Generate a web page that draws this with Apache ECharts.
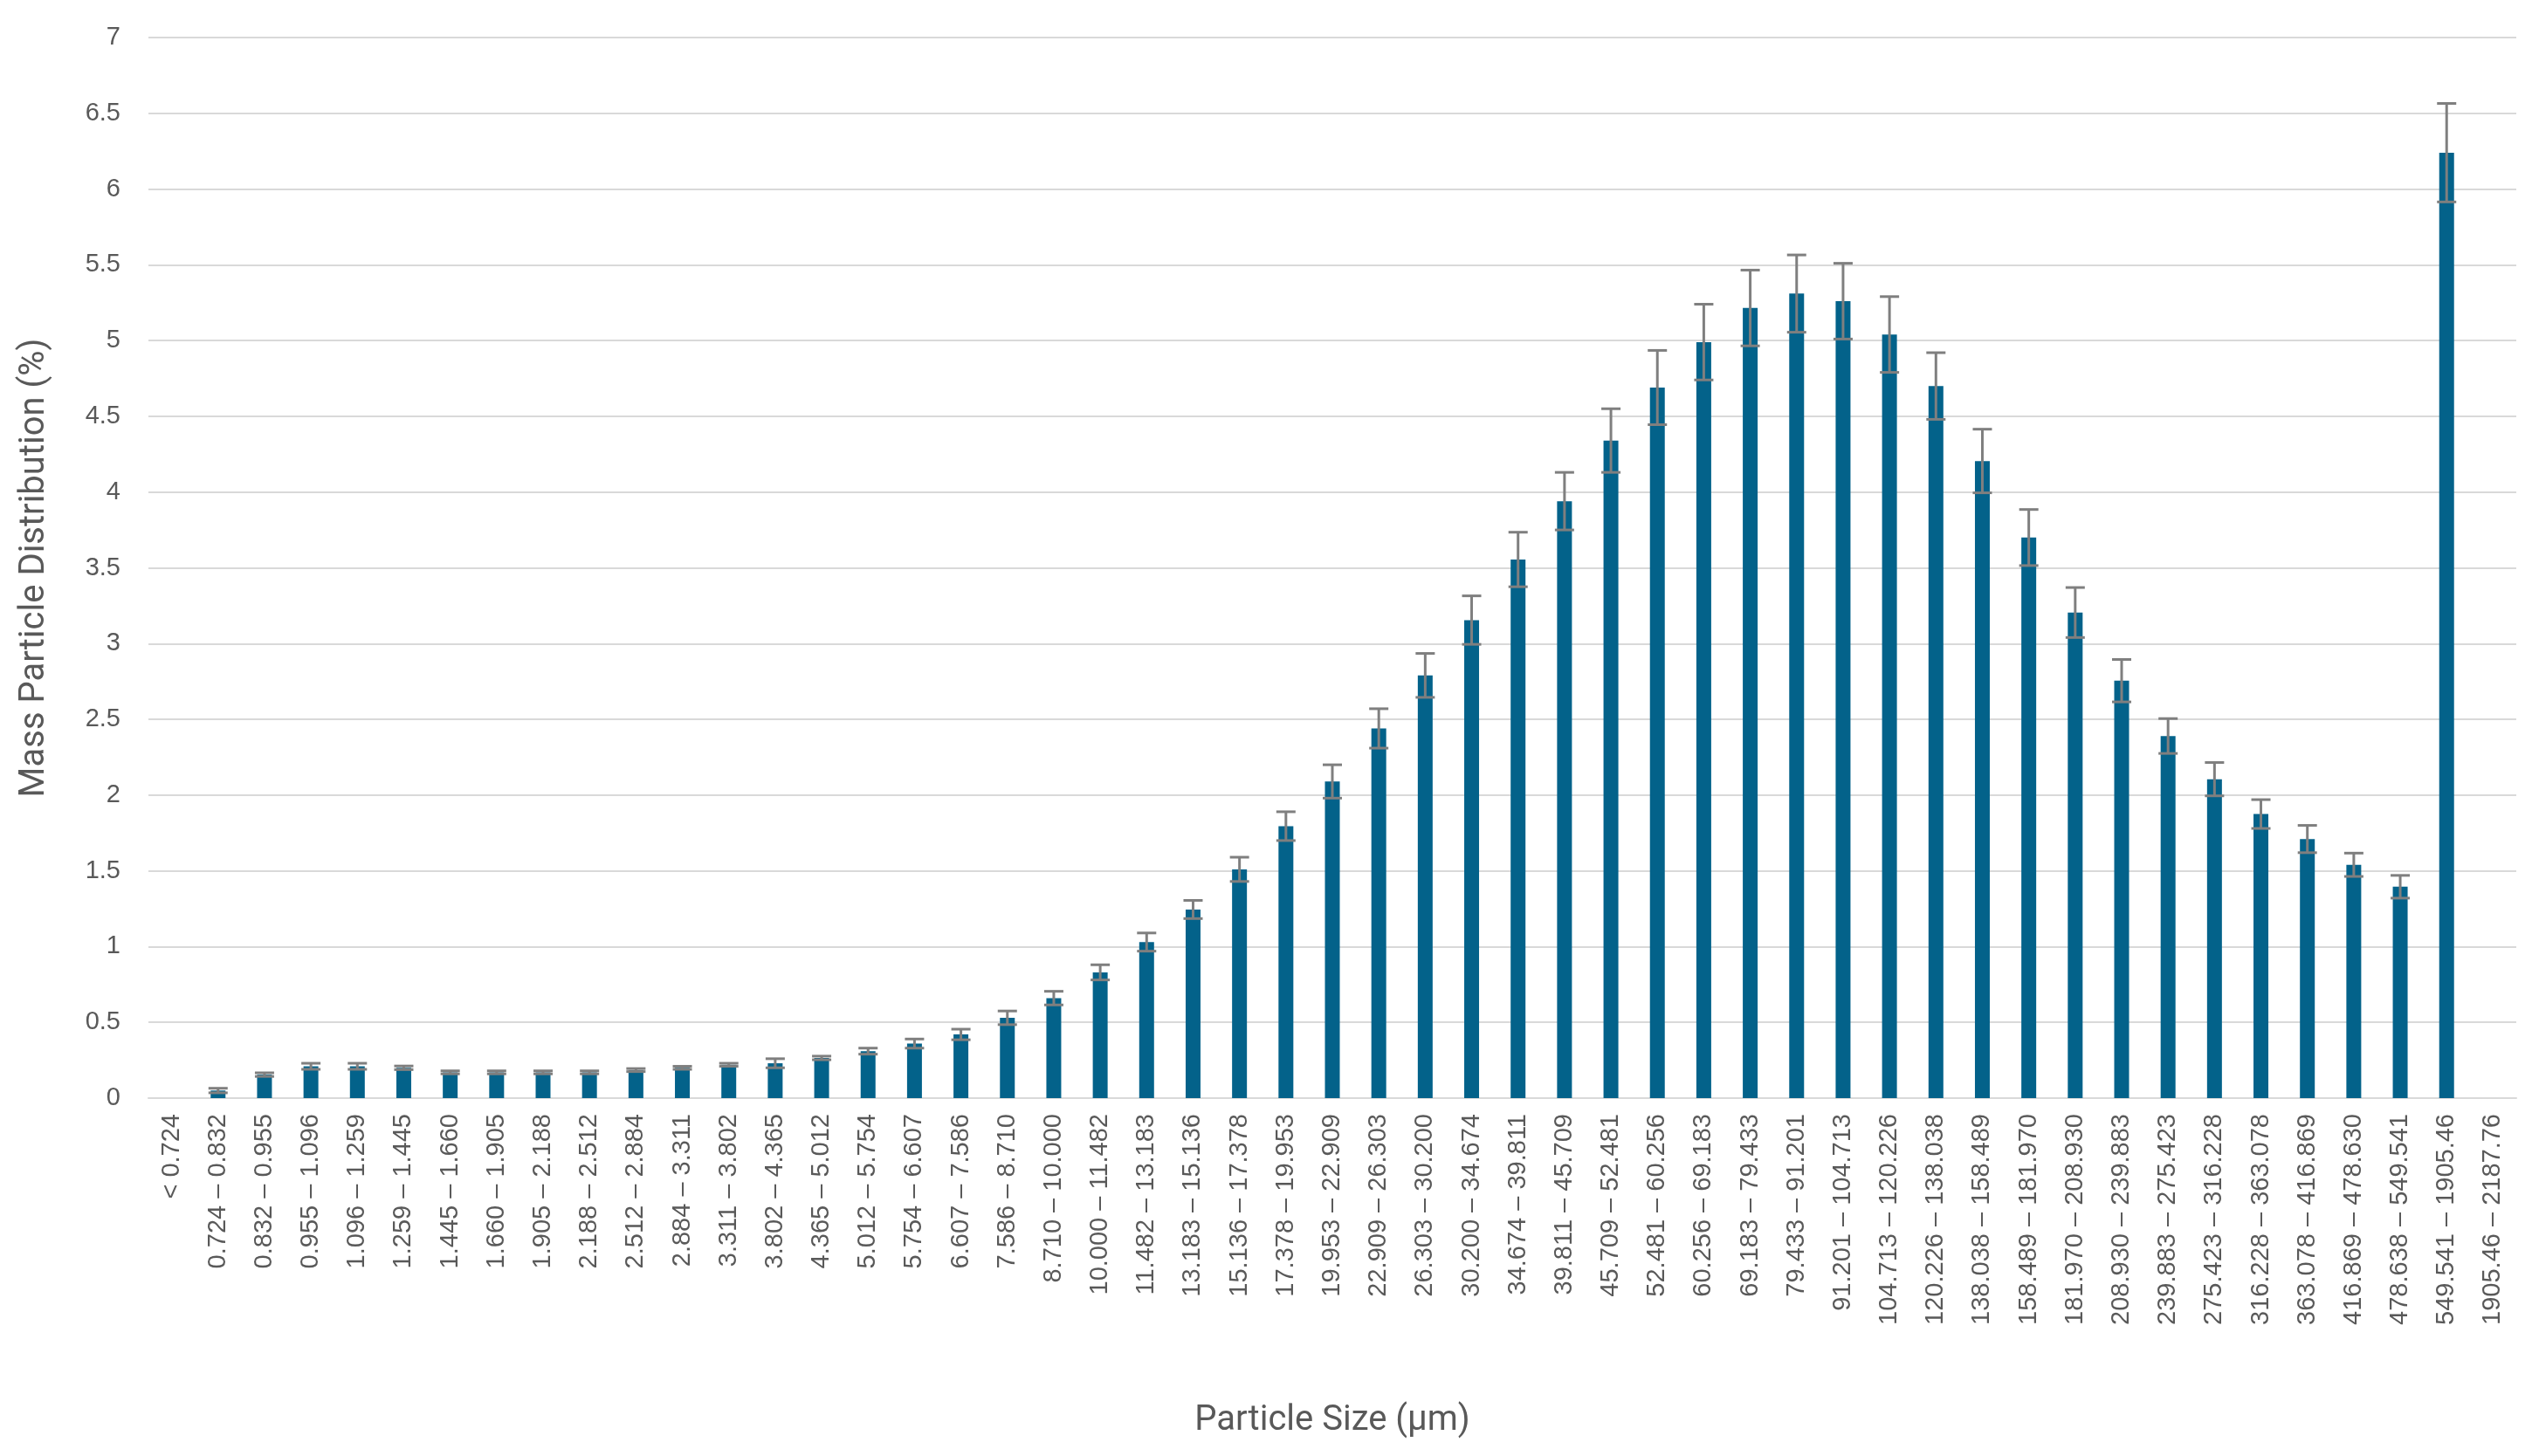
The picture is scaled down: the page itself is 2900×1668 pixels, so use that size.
<!DOCTYPE html>
<html>
<head>
<meta charset="utf-8">
<script src="https://cdn.jsdelivr.net/npm/echarts@6/dist/echarts.min.js"></script>
<style>
html,body{margin:0;padding:0;background:#fff;}
#chart{width:2900px;height:1668px;}
</style>
</head>
<body>
<div id="chart"></div>
<script>
const categories = [
  "< 0.724", "0.724 \u2013 0.832", "0.832 \u2013 0.955", "0.955 \u2013 1.096", "1.096 \u2013 1.259",
  "1.259 \u2013 1.445", "1.445 \u2013 1.660", "1.660 \u2013 1.905", "1.905 \u2013 2.188", "2.188 \u2013 2.512",
  "2.512 \u2013 2.884", "2.884 \u2013 3.311", "3.311 \u2013 3.802", "3.802 \u2013 4.365", "4.365 \u2013 5.012",
  "5.012 \u2013 5.754", "5.754 \u2013 6.607", "6.607 \u2013 7.586", "7.586 \u2013 8.710", "8.710 \u2013 10.000",
  "10.000 \u2013 11.482", "11.482 \u2013 13.183", "13.183 \u2013 15.136", "15.136 \u2013 17.378", "17.378 \u2013 19.953",
  "19.953 \u2013 22.909", "22.909 \u2013 26.303", "26.303 \u2013 30.200", "30.200 \u2013 34.674", "34.674 \u2013 39.811",
  "39.811 \u2013 45.709", "45.709 \u2013 52.481", "52.481 \u2013 60.256", "60.256 \u2013 69.183", "69.183 \u2013 79.433",
  "79.433 \u2013 91.201", "91.201 \u2013 104.713", "104.713 \u2013 120.226", "120.226 \u2013 138.038", "138.038 \u2013 158.489",
  "158.489 \u2013 181.970", "181.970 \u2013 208.930", "208.930 \u2013 239.883", "239.883 \u2013 275.423", "275.423 \u2013 316.228",
  "316.228 \u2013 363.078", "363.078 \u2013 416.869", "416.869 \u2013 478.630", "478.638 \u2013 549.541", "549.541 \u2013 1905.46",
  "1905.46 \u2013 2187.76"
];

const massPercent = [
  0, 0.05, 0.155, 0.21, 0.21, 0.20, 0.17, 0.17, 0.17, 0.17,
  0.185, 0.20, 0.22, 0.23, 0.265, 0.31, 0.36, 0.42, 0.53, 0.66,
  0.83, 1.03, 1.245, 1.51, 1.795, 2.09, 2.44, 2.79, 3.155, 3.555,
  3.94, 4.34, 4.69, 4.99, 5.215, 5.31, 5.26, 5.04, 4.70, 4.205,
  3.70, 3.205, 2.755, 2.39, 2.105, 1.875, 1.71, 1.54, 1.395, 6.24,
  0
];

const errorPlusMinus = [
  0, 0.015, 0.012, 0.02, 0.02, 0.012, 0.01, 0.01, 0.01, 0.01,
  0.01, 0.01, 0.01, 0.03, 0.012, 0.02, 0.03, 0.035, 0.045, 0.045,
  0.05, 0.06, 0.06, 0.08, 0.095, 0.11, 0.13, 0.145, 0.16, 0.18,
  0.19, 0.21, 0.245, 0.25, 0.25, 0.255, 0.25, 0.25, 0.22, 0.21,
  0.185, 0.165, 0.14, 0.115, 0.11, 0.095, 0.09, 0.077, 0.075, 0.325,
  0
];

const yTicks = { min: 0, max: 7, interval: 0.5 };

const errData = massPercent.map((v, i) => [i, v - errorPlusMinus[i], v + errorPlusMinus[i], errorPlusMinus[i]]);

const chart = echarts.init(document.getElementById('chart'), null, { renderer: 'canvas' });
const labelColor = '#595959';
const gridColor = '#d9d9d9';
const errColor = '#7f7f7f';

chart.setOption({
  backgroundColor: '#ffffff',
  animation: false,
  grid: { left: 170, right: 18, top: 43, bottom: 410, containLabel: false },
  xAxis: {
    type: 'category',
    data: categories,
    boundaryGap: true,
    name: 'Particle Size (\u00b5m)',
    nameLocation: 'middle',
    nameGap: 350,
    nameTextStyle: { fontFamily: 'Roboto', fontSize: 40, color: labelColor },
    axisLine: { show: true, lineStyle: { color: gridColor, width: 2 } },
    axisTick: { show: false },
    axisLabel: {
      interval: 0, rotate: 90, margin: 18,
      fontFamily: 'Liberation Sans', fontSize: 29, color: labelColor
    }
  },
  yAxis: {
    type: 'value',
    min: yTicks.min, max: yTicks.max, interval: yTicks.interval,
    name: 'Mass Particle Distribution (%)',
    nameLocation: 'middle',
    nameRotate: 90,
    nameGap: 110,
    nameTextStyle: { fontFamily: 'Roboto', fontSize: 40, color: labelColor },
    axisLine: { show: false },
    axisTick: { show: false },
    splitLine: { show: true, lineStyle: { color: gridColor, width: 2 } },
    axisLabel: { margin: 32, fontFamily: 'Liberation Sans', fontSize: 29, color: labelColor }
  },
  series: [
    {
      type: 'bar',
      data: massPercent,
      barWidth: 17,
      itemStyle: { color: '#03628a' },
      z: 2
    },
    {
      type: 'custom',
      data: errData,
      z: 3,
      encode: { x: 0, y: [1, 2] },
      renderItem: function (params, api) {
        const e = api.value(3);
        if (!e) return null;
        const i = api.value(0);
        const hi = api.coord([i, api.value(2)]);
        const lo = api.coord([i, api.value(1)]);
        const hw = 11;
        const st = { stroke: errColor, lineWidth: 3 };
        return {
          type: 'group',
          children: [
            { type: 'line', shape: { x1: hi[0], y1: hi[1], x2: lo[0], y2: lo[1] }, style: st },
            { type: 'line', shape: { x1: hi[0] - hw, y1: hi[1], x2: hi[0] + hw, y2: hi[1] }, style: st },
            { type: 'line', shape: { x1: lo[0] - hw, y1: lo[1], x2: lo[0] + hw, y2: lo[1] }, style: st }
          ]
        };
      }
    }
  ]
});
</script>
</body>
</html>
